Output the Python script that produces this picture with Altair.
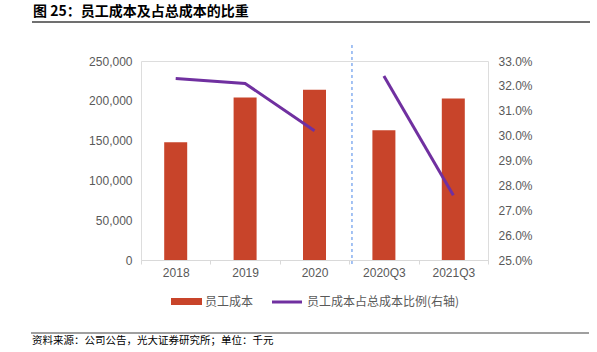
import altair as alt
import pandas as pd

categories = ["2018", "2019", "2020", "2020Q3", "2021Q3"]
staff_cost = [148000, 204000, 214000, 163000, 203000]
cost_ratio = [0.323, 0.321, 0.302, 0.324, 0.276]
segment = ["annual", "annual", "annual", "q3", "q3"]

left_ticks = [0, 50000, 100000, 150000, 200000, 250000]
right_ticks = [0.25, 0.26, 0.27, 0.28, 0.29, 0.30, 0.31, 0.32, 0.33]

title_text = "图 25：员工成本及占总成本的比重"
legend_bar = "员工成本"
legend_line = "员工成本占总成本比例(右轴)"
source_text = "资料来源：公司公告，光大证券研究所；单位：千元"

BAR = "#C8442A"
LINE = "#7030A0"
GRAY = "#595959"
CJK = "Noto Sans CJK SC"
NUM = "Liberation Sans"

df = pd.DataFrame({"cat": categories, "cost": staff_cost, "ratio": cost_ratio, "seg": segment})

xenc = alt.X("cat:N", sort=categories,
             scale=alt.Scale(paddingInner=0, paddingOuter=0),
             axis=alt.Axis(title=None, labelAngle=0, labelFont=NUM, labelFontSize=12,
                           labelColor=GRAY, domainColor="#D9D9D9", tickColor="#D9D9D9",
                           tickSize=4, labelPadding=3, tickBand="extent", domainWidth=1))

bars = alt.Chart(df).mark_bar(size=23, color=BAR).encode(
    x=xenc,
    y=alt.Y("cost:Q", scale=alt.Scale(domain=[0, 250000], nice=False),
            axis=alt.Axis(title=None, values=left_ticks, format=",.0f", grid=False, domain=False,
                          ticks=False, labelFont=NUM, labelFontSize=12, labelColor=GRAY,
                          labelPadding=9, orient="left")),
)

line = alt.Chart(df).mark_line(color=LINE, strokeWidth=3).encode(
    x=alt.X("cat:N", sort=categories),
    y=alt.Y("ratio:Q", scale=alt.Scale(domain=[0.25, 0.33], nice=False, zero=False),
            axis=alt.Axis(title=None, values=right_ticks, format=".1%", grid=False, domain=False,
                          ticks=False, labelFont=NUM, labelFontSize=12, labelColor=GRAY,
                          labelPadding=10, orient="right")),
    detail="seg:N",
)

sep_df = pd.DataFrame({"cat": ["2020Q3"]})
sep = alt.Chart(sep_df).mark_rule(color="#4A86E8", strokeDash=[3, 3], strokeWidth=1).encode(
    x=alt.X("cat:N", sort=categories, bandPosition=0.04),
    y=alt.value(-16), y2=alt.value(206),
)

one = pd.DataFrame({"k": [0]})
base = alt.Chart(one)

title = base.mark_text(text=title_text, font=CJK, fontSize=14, fontWeight="bold",
                       align="left", baseline="middle", color="#000000").encode(
    x=alt.value(-108), y=alt.value(-49))
title_rule = base.mark_rule(color="#404040", strokeWidth=1.5).encode(
    x=alt.value(-109), x2=alt.value(449), y=alt.value(-39))

leg_rect = base.mark_rect(color=BAR).encode(
    x=alt.value(30), x2=alt.value(61), y=alt.value(237), y2=alt.value(244))
leg_text1 = base.mark_text(text=legend_bar, font=CJK, fontSize=12, align="left",
                           baseline="middle", color=GRAY).encode(
    x=alt.value(64), y=alt.value(241))
leg_line = base.mark_rule(color=LINE, strokeWidth=3).encode(
    x=alt.value(131), x2=alt.value(161), y=alt.value(241))
leg_text2 = base.mark_text(text=legend_line, font=CJK, fontSize=12, align="left",
                           baseline="middle", color=GRAY).encode(
    x=alt.value(166), y=alt.value(241))

foot_rule = base.mark_rule(color="#404040", strokeWidth=1.2).encode(
    x=alt.value(-110), x2=alt.value(448), y=alt.value(272))
foot_text = base.mark_text(text=source_text, font=CJK, fontSize=10.5, align="left",
                           baseline="middle", color="#000000").encode(
    x=alt.value(-109), y=alt.value(280))

main = alt.layer(bars, line).resolve_scale(y="independent")

chart = alt.layer(
    main, sep, title, title_rule, leg_rect, leg_text1, leg_line, leg_text2, foot_rule, foot_text
).resolve_scale(y="independent").properties(
    width=347, height=199,
    autosize=alt.AutoSizeParams(type="none"),
    padding={"left": 141, "top": 61, "right": 109, "bottom": 92},
).configure_view(stroke=None).configure(background="white")

chart.save("out.html", embed_options={"renderer": "svg", "actions": False})
